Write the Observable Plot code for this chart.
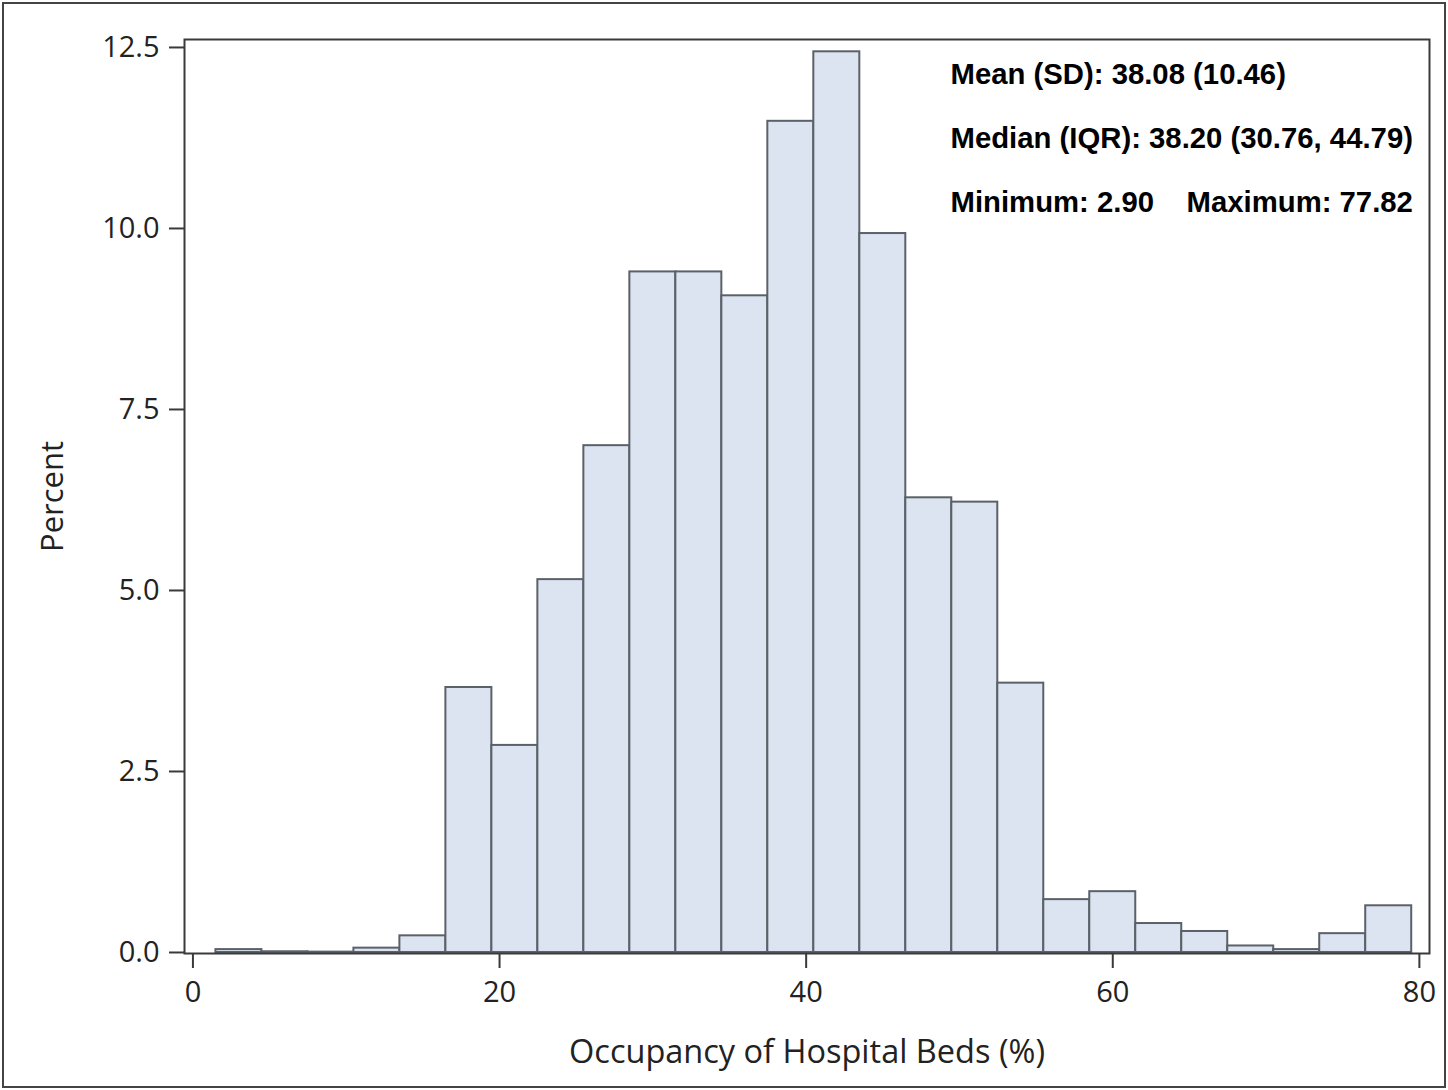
<!DOCTYPE html>
<html>
<head>
<meta charset="utf-8">
<script src="https://cdn.jsdelivr.net/npm/d3@7"></script>
<script src="https://cdn.jsdelivr.net/npm/@observablehq/plot@0.6"></script>
<style>
html, body { margin: 0; padding: 0; background: #fff; }
#wrap { position: relative; width: 1448px; height: 1090px; overflow: hidden; background: #fff; }
#chart { position: absolute; left: 0; top: 0; }
#border { position: absolute; left: 2px; top: 2px; width: 1440px; height: 1082px; border: 2px solid #444; pointer-events: none; }
</style>
</head>
<body>
<div id="wrap"><div id="chart"></div><div id="border"></div></div>
<script>
// Histogram bins (bin width 3, lower/upper edges) and percent of observations
const binLower = [1.5, 4.5, 7.5, 10.5, 13.5, 16.5, 19.5, 22.5, 25.5, 28.5, 31.5, 34.5, 37.5, 40.5, 43.5, 46.5, 49.5, 52.5, 55.5, 58.5, 61.5, 64.5, 67.5, 70.5, 73.5, 76.5];
const binUpper = [4.5, 7.5, 10.5, 13.5, 16.5, 19.5, 22.5, 25.5, 28.5, 31.5, 34.5, 37.5, 40.5, 43.5, 46.5, 49.5, 52.5, 55.5, 58.5, 61.5, 64.5, 67.5, 70.5, 73.5, 76.5, 79.5];
const percent = [0.04, 0.01, 0.005, 0.06, 0.23, 3.66, 2.86, 5.15, 7.00, 9.40, 9.40, 9.07, 11.48, 12.44, 9.93, 6.28, 6.22, 3.72, 0.73, 0.84, 0.40, 0.29, 0.09, 0.04, 0.26, 0.645];

const xTicks = [0, 20, 40, 60, 80];
const yTicks = [0, 2.5, 5, 7.5, 10, 12.5];
const xLabel = "Occupancy of Hospital Beds (%)";
const yLabel = "Percent";
const statsLines = [
  "Mean (SD): 38.08 (10.46)",
  "Median (IQR): 38.20 (30.76, 44.79)",
  "Minimum: 2.90\u00a0\u00a0\u00a0\u00a0Maximum: 77.82"
];

const bins = binLower.map((lo, i) => ({x1: lo, x2: binUpper[i], pct: percent[i]}));

const chart = Plot.plot({
  width: 1448,
  height: 1090,
  marginLeft: 184,
  marginRight: 19,
  marginTop: 39,
  marginBottom: 137,
  style: {background: "transparent", fontFamily: "'Open Sans', sans-serif", color: "#222"},
  x: {domain: [-0.55, 80.66]},
  y: {domain: [-0.014, 12.61]},
  marks: [
    Plot.rect(bins, {x1: "x1", x2: "x2", y1: 0, y2: "pct", fill: "#dbe4f0", stroke: "#5b6169", strokeWidth: 2}),
    Plot.frame({stroke: "#3a3a3a", strokeWidth: 2}),
    Plot.axisX({ticks: xTicks, tickSize: 15, tickPadding: 13, fontSize: 29, label: null, tickFormat: d => String(d), stroke: "#3a3a3a", strokeWidth: 2, fill: "#222"}),
    Plot.axisY({ticks: yTicks, tickSize: 15, tickPadding: 10, fontSize: 29, label: null, tickFormat: d => d.toFixed(1), stroke: "#3a3a3a", strokeWidth: 2, fill: "#222"}),
    Plot.text([xLabel], {text: d => d, frameAnchor: "bottom", dy: 109, lineAnchor: "bottom", fontSize: 32.5, fill: "#222"}),
    Plot.text([yLabel], {text: d => d, frameAnchor: "left", dx: -122, rotate: -90, textAnchor: "middle", lineAnchor: "bottom", fontSize: 31, fill: "#222"}),
    Plot.text([statsLines.join("\n")], {text: d => d, frameAnchor: "top-left", dx: 766, dy: -1, textAnchor: "start", lineAnchor: "top", lineHeight: 2.18, fontFamily: "'Liberation Sans', Arial, sans-serif", fontWeight: "bold", fontSize: 29.3, fill: "#000"})
  ]
});
document.getElementById("chart").appendChild(chart);
</script>
</body>
</html>
